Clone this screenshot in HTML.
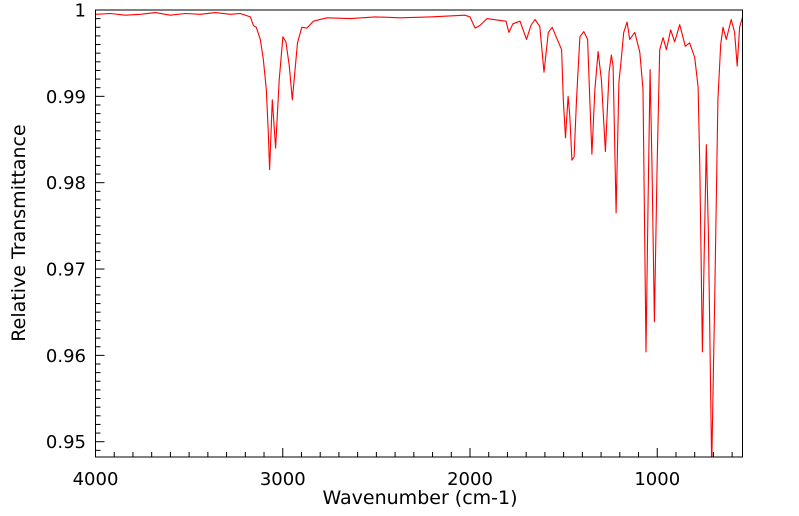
<!DOCTYPE html>
<html><head><meta charset="utf-8"><style>
html,body{margin:0;padding:0;background:#fff;}
svg{display:block;font-family:"DejaVu Sans","Liberation Sans",sans-serif;}
</style></head><body>
<svg id="chart" width="799" height="516" viewBox="0 0 799 516" xmlns="http://www.w3.org/2000/svg">
<defs><clipPath id="plotclip"><rect x="95.5" y="10" width="647" height="447"/></clipPath></defs>
<g id="axes"></g>
<g id="series" clip-path="url(#plotclip)"></g>
<rect x="95.5" y="10" width="647" height="447" fill="none" stroke="#000" stroke-width="1"/>
<text x="420" y="504" font-size="19" text-anchor="middle">Wavenumber (cm-1)</text>
<text transform="translate(25,233) rotate(-90)" font-size="19" text-anchor="middle">Relative Transmittance</text>
</svg>
<script>
const wavenumbers=[4000,3920,3840,3760,3680,3600,3520,3440,3360,3280,3227,3173,3157,3141,3120,3104,3088,3077,3070,3056,3038,3019,2999,2983,2965,2949,2921,2898,2871,2837,2764,2640,2507,2373,2213,2027,2000,1973,1947,1909,1840,1808,1792,1771,1733,1698,1675,1653,1627,1605,1582,1561,1511,1502,1490,1476,1467,1456,1444,1431,1413,1392,1372,1360,1349,1333,1316,1298,1277,1257,1245,1236,1220,1205,1191,1179,1161,1147,1120,1093,1076,1060,1049,1038,1028,1015,1001,987,969,951,928,907,880,850,827,800,782,773,759,747,738,727,709,693,676,661,649,631,605,587,573,560,546];
const transmittance=[.9995,.9996,.9994,.9995,.9997,.9994,.9996,.9995,.9997,.9995,.9996,.9992,.9982,.9980,.9966,.9943,.9908,.9858,.9815,.9896,.9840,.9919,.9969,.9963,.9935,.9896,.9962,.9980,.9979,.9987,.9991,.9990,.9992,.9991,.9992,.9994,.9992,.9979,.9982,.9990,.9988,.9987,.9974,.9984,.9987,.9966,.9982,.9989,.9981,.9928,.9974,.9980,.9954,.9896,.9852,.9900,.9877,.9826,.9830,.9896,.9969,.9975,.9966,.9896,.9833,.9908,.9952,.9919,.9836,.9928,.9948,.9935,.9765,.9916,.9946,.9974,.9986,.9966,.9974,.9951,.9908,.9604,.9780,.9931,.9819,.9639,.9819,.9954,.9968,.9954,.9977,.9963,.9983,.9958,.9962,.9945,.9911,.9819,.9604,.9742,.9844,.9742,.9471,.9665,.9896,.9960,.9980,.9966,.9989,.9974,.9935,.9980,.9991];
const xTickLabels=[4000,3000,2000,1000];
const yTickLabels=[1,0.99,0.98,0.97,0.96,0.95];

const NS="http://www.w3.org/2000/svg";
const X=w=>95.5+(4000-w)*0.18725;
const Y=t=>10+(1-t)*8634;
const axes=document.getElementById('axes');
function mk(tag,attrs,parent){const e=document.createElementNS(NS,tag);for(const k in attrs)e.setAttribute(k,attrs[k]);parent.appendChild(e);return e;}
for(let w=4000;w>=550;w-=100){
  const major=w%1000===0;
  const t=mk('line',{x1:X(w),x2:X(w),y1:457,y2:457-(major?9:5),stroke:'#000','stroke-width':1},axes);
  
  
}
xTickLabels.forEach(v=>{
  const t=mk('text',{x:X(v),y:485,'font-size':18,'text-anchor':'middle'},axes);
  t.textContent=v;
  
  
});
for(let i=0;i<=51;i++){
  const v=1-i*0.001;
  if(Y(v)>457.5)break;
  const major=i%10===0;
  const t=mk('line',{x1:95.5,x2:95.5+(major?9:5),y1:Y(v),y2:Y(v),stroke:'#000','stroke-width':1},axes);
  
  
}
yTickLabels.forEach(v=>{
  const t=mk('text',{x:86,y:Y(v)+6.5,'font-size':18,'text-anchor':'end'},axes);
  t.textContent=String(v);
  
  
});
const d=wavenumbers.map((w,i)=>(i?'L':'M')+X(w).toFixed(1)+','+Y(transmittance[i]).toFixed(1)).join('');
const p=mk('path',{d:d,fill:'none',stroke:'#ff0000','stroke-width':1.1,'stroke-linejoin':'round'},document.getElementById('series'));


</script>
</body></html>
